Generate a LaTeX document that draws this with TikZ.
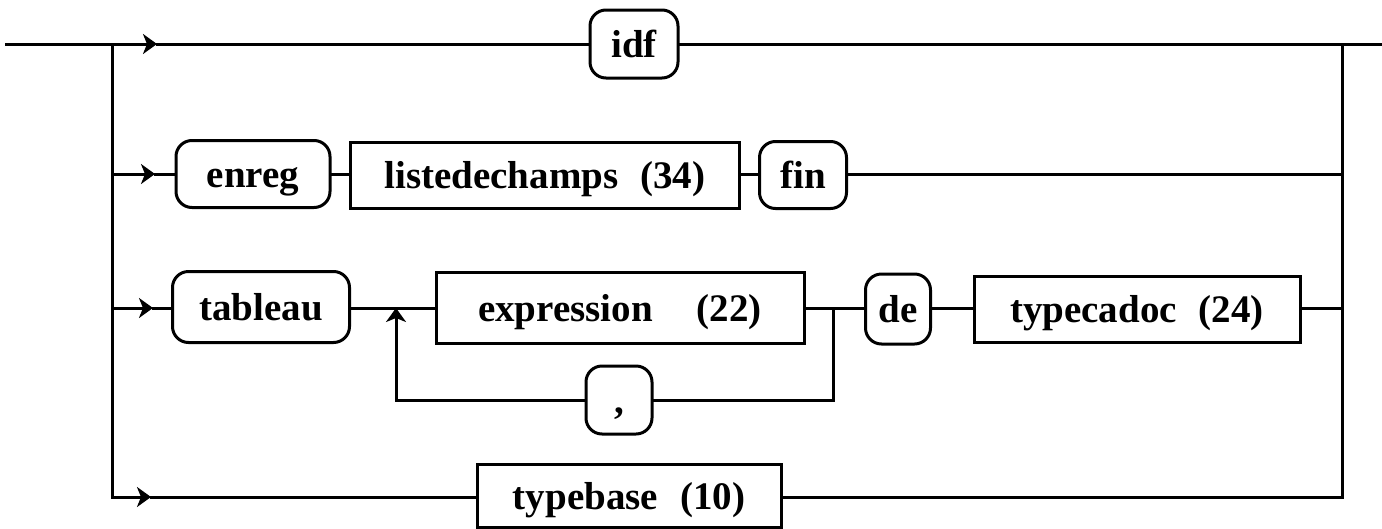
\documentclass[tikz,border=0pt]{standalone}
\usepackage{fontspec}
\setmainfont{Liberation Serif}
\usetikzlibrary{arrows.meta}
\newcommand{\gapsp}{\hspace{22pt}}
\begin{document}
\begin{tikzpicture}[x=1pt,y=-1pt,line width=3pt,line cap=rect,
  lbl/.style={font=\fontsize{39}{40}\selectfont\bfseries,text height=26pt,text depth=0pt},
  term/.style={draw,rounded corners=16pt,inner sep=0pt,lbl,minimum height=67pt},
  nonterm/.style={draw,rectangle,inner sep=0pt,lbl,minimum height=66pt},
  arr/.style={-{Stealth[length=14pt,width=20pt,inset=4pt]}}]
\useasboundingbox (0,0) rectangle (1382,528);
% nodes
\node[term,minimum width=88pt,minimum height=68pt] (idf) at (634,44) {idf};
\node[term,minimum width=154pt] (enreg) at (253,174) {enreg};
\node[nonterm,minimum width=389pt] (lst) at (545,175) {listedechamps\gapsp(34)};
\node[term,minimum width=87pt] (fin) at (803,175) {fin};
\node[term,minimum width=177pt,minimum height=71pt] (tab) at (261,307) {tableau};
\node[nonterm,minimum width=368pt,minimum height=71pt] (expr) at (620,308) {expression\hspace{44pt}(22)};
\node[term,minimum width=65pt,minimum height=70pt] (de) at (898,309) {de};
\node[nonterm,minimum width=326pt] (tc) at (1137,309) {typecadoc\gapsp(24)};
\node[term,minimum width=66pt,minimum height=68pt] (comma) at (619,400) {,};
\node[nonterm,minimum width=304pt,minimum height=63pt] (tb) at (629,496) {typebase\gapsp(10)};
% coordinates
\coordinate (S) at (6,44);
\coordinate (E) at (1382,44);
\coordinate (L1) at (112,44);
\coordinate (L2) at (112,174);
\coordinate (L3) at (112,308);
\coordinate (L4) at (112,497);
\coordinate (R1) at (1342,44);
\coordinate (R2) at (1342,174);
\coordinate (R3) at (1342,308);
\coordinate (R4) at (1342,497);
\coordinate (A1) at (157,44);
\coordinate (A2) at (155,174);
\coordinate (A3) at (153,308);
\coordinate (A4) at (151,497);
\coordinate (LP) at (396,308);
\coordinate (LPb) at (396,400);
\coordinate (RP) at (833,308);
\coordinate (RPb) at (833,400);
% main line
\draw (S) -- (L1);
\draw[arr] (L1) -- (A1);
\draw (A1) -- (idf);
\draw (idf) -- (E);
\draw (L1) -- (L4);
\draw (R1) -- (R4);
% row 2
\draw[arr] (L2) -- (A2);
\draw (A2) -- (A2 -| enreg.west);
\draw (enreg.east) -- (enreg.east -| lst.west);
\draw (lst.east |- L2) -- (L2 -| fin.west);
\draw (fin.east |- L2) -- (R2);
% row 3
\draw[arr] (L3) -- (A3);
\draw (A3) -- (A3 -| tab.west);
\draw (tab.east |- L3) -- (L3 -| expr.west);
\draw (expr.east |- L3) -- (L3 -| de.west);
\draw (de.east |- L3) -- (L3 -| tc.west);
\draw (tc.east |- L3) -- (R3);
\draw (RP) -- (RPb) -- (comma);
\draw (comma) -- (LPb);
\draw[arr] (LPb) -- (LP);
% row 4
\draw[arr] (L4) -- (A4);
\draw (A4) -- (A4 -| tb.west);
\draw (tb.east |- L4) -- (R4);
\end{tikzpicture}
\end{document}
